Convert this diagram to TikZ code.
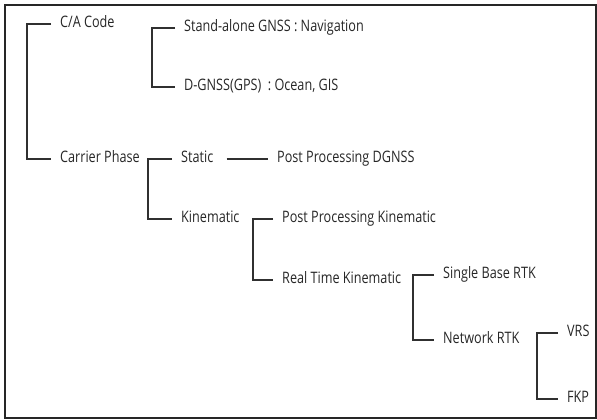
\documentclass[tikz,border=0pt]{standalone}
\usepackage{fontspec}
\setmainfont{Open Sans}[FakeStretch=0.8]
\definecolor{ink}{HTML}{262626}
\definecolor{wire}{HTML}{303030}
\begin{document}
\begin{tikzpicture}[x=1pt,y=-1pt,
  lbl/.style={anchor=west,inner sep=0pt,text height=0.7em,text depth=0pt,font=\fontsize{15.8}{16}\selectfont,text=ink},
  conn/.style={draw=wire,line width=1.1pt}]
\useasboundingbox (0,0) rectangle (597,420);
\draw[line width=1.2pt,draw=black!85] (5,5) rectangle (596,418);
% nodes
\node[lbl] (ca) at (60,24) {C/A Code};
\node[lbl] (cp) at (60,159) {Carrier Phase};
\node[lbl] (sa) at (184,28) {Stand-alone GNSS : Navigation};
\node[lbl] (dg) at (184,87) {D-GNSS(GPS)\ \ : Ocean, GIS};
\node[lbl] (st) at (181,159) {Static};
\node[lbl] (ki) at (181,219) {Kinematic};
\node[lbl] (ppd) at (277,159) {Post Processing DGNSS};
\node[lbl] (ppk) at (282,219) {Post Processing Kinematic};
\node[lbl] (rtk) at (282,280) {Real Time Kinematic};
\node[lbl] (sb) at (443,275) {Single Base RTK};
\node[lbl] (nr) at (443,340) {Network RTK};
\node[lbl] (vrs) at (567,333) {VRS};
\node[lbl] (fkp) at (567,399) {FKP};
% bracket spines
\coordinate (b1) at (27,0);
\coordinate (b2) at (152,0);
\coordinate (b3) at (148,0);
\coordinate (b4) at (253,0);
\coordinate (b5) at (413,0);
\coordinate (b6) at (537,0);
\newcommand\bracketpair[3]{\draw[conn] ([xshift=-9pt]#2.west) -- (#1 |- #2.west) -- (#1 |- #3.west) -- ([xshift=-9pt]#3.west);}
\bracketpair{b1}{ca}{cp}
\bracketpair{b2}{sa}{dg}
\bracketpair{b3}{st}{ki}
\bracketpair{b4}{ppk}{rtk}
\bracketpair{b5}{sb}{nr}
\bracketpair{b6}{vrs}{fkp}
\draw[conn] ([xshift=13pt]st.east) -- ([xshift=-9pt]ppd.west);
\end{tikzpicture}
\end{document}
